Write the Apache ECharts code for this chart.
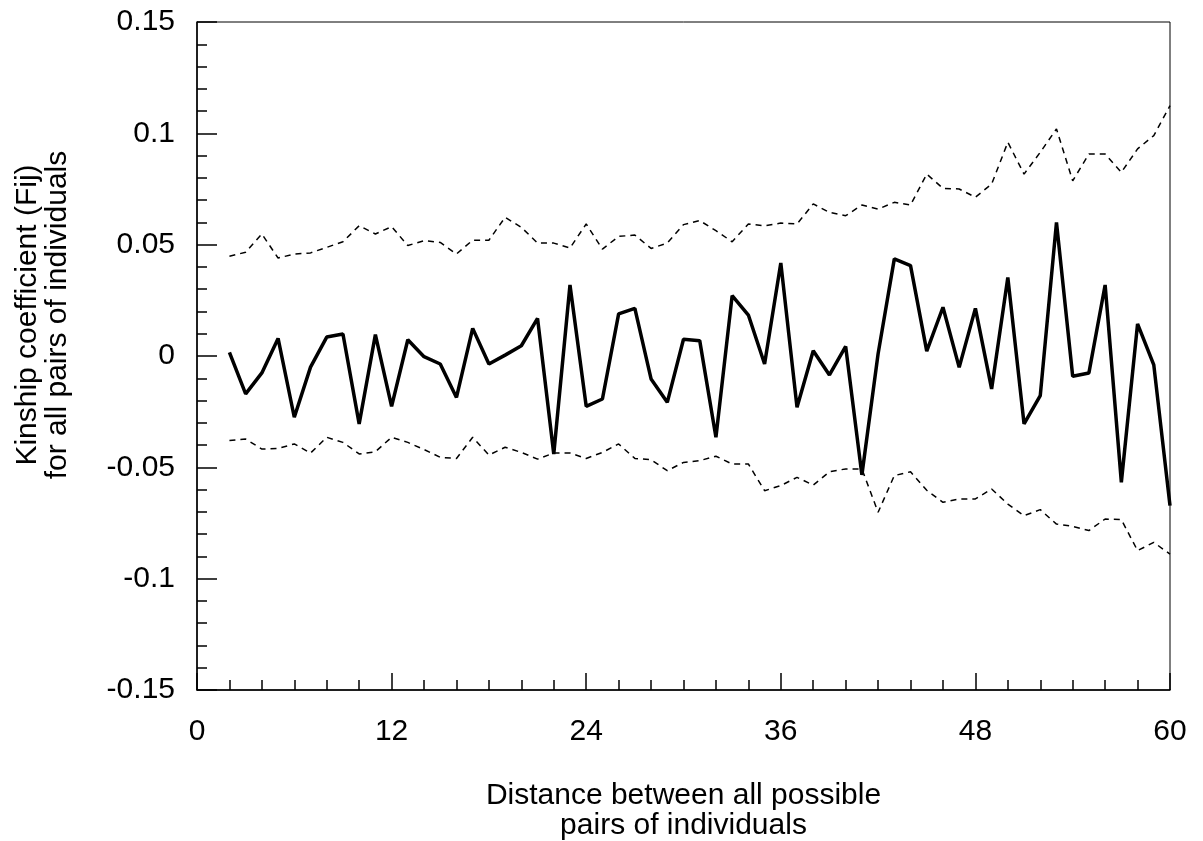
<!DOCTYPE html>
<html>
<head>
<meta charset="utf-8">
<script src="https://cdn.jsdelivr.net/npm/echarts@6/dist/echarts.min.js"></script>
<style>
html,body{margin:0;padding:0;background:#fff;}
#chart{width:1203px;height:841px;}
</style>
</head>
<body>
<div id="chart"></div>
<script>
// Distances (x) 2..60
const distances = [2,3,4,5,6,7,8,9,10,11,12,13,14,15,16,17,18,19,20,21,22,23,24,25,26,27,28,29,30,31,32,33,34,35,36,37,38,39,40,41,42,43,44,45,46,47,48,49,50,51,52,53,54,55,56,57,58,59,60];

// Observed kinship coefficient (solid line)
const kinship = [0.0016,-0.017,-0.0076,0.0079,-0.0275,-0.005,0.0085,0.0099,-0.0305,0.0096,-0.0226,0.0073,-0.0003,-0.0036,-0.0186,0.0124,-0.0036,0.0004,0.0046,0.0169,-0.044,0.0319,-0.0226,-0.0193,0.0189,0.0214,-0.0103,-0.0208,0.0075,0.0069,-0.0365,0.0271,0.0184,-0.0036,0.0418,-0.023,0.0024,-0.0085,0.0043,-0.0534,0.001,0.0436,0.0406,0.0022,0.0219,-0.0051,0.0214,-0.0148,0.0353,-0.0305,-0.0178,0.060,-0.0091,-0.0076,0.0319,-0.0567,0.0144,-0.004,-0.0672];

// Upper confidence limit (dashed)
const upper = [0.0448,0.0466,0.0548,0.0440,0.0458,0.0463,0.0488,0.0513,0.0585,0.0548,0.0581,0.0496,0.0518,0.0510,0.0458,0.052,0.052,0.0623,0.0578,0.0507,0.0507,0.0485,0.0593,0.048,0.0537,0.0543,0.0483,0.0507,0.059,0.0608,0.0563,0.0513,0.0593,0.0585,0.0597,0.0593,0.0683,0.0645,0.063,0.0678,0.066,0.069,0.0678,0.0817,0.0753,0.075,0.0713,0.0772,0.096,0.0817,0.0915,0.102,0.0787,0.0907,0.0907,0.0825,0.093,0.099,0.1124];

// Lower confidence limit (dashed)
const lower = [-0.038,-0.0373,-0.0418,-0.0415,-0.0395,-0.0436,-0.0365,-0.0388,-0.044,-0.043,-0.0365,-0.0388,-0.042,-0.0455,-0.046,-0.0365,-0.0445,-0.041,-0.0433,-0.0463,-0.0436,-0.0436,-0.046,-0.0433,-0.0395,-0.046,-0.0466,-0.0515,-0.0478,-0.047,-0.045,-0.0485,-0.0485,-0.0605,-0.0582,-0.0545,-0.058,-0.052,-0.0507,-0.0507,-0.0702,-0.0537,-0.052,-0.0603,-0.0657,-0.0642,-0.0642,-0.0597,-0.0665,-0.0717,-0.069,-0.0755,-0.0765,-0.0784,-0.0732,-0.0735,-0.0874,-0.0837,-0.089];

const xTickLabels = ['0','12','24','36','48','60'];
const yTickLabels = ['-0.15','-0.1','-0.05','0','0.05','0.1','0.15'];
const xTitle = 'Distance between all possible\npairs of individuals';
const yTitle = 'Kinship coefficient (Fij)\nfor all pairs of individuals';

const pairs = arr => distances.map((d,i)=>[d,arr[i]]);

const font = '"Liberation Sans", Arial, sans-serif';
const chart = echarts.init(document.getElementById('chart'), null, {renderer:'canvas'});
chart.setOption({
  animation:false,
  backgroundColor:'#fff',
  grid:{left:197, top:22, width:973, height:668, show:true, borderColor:'#000', borderWidth:1, containLabel:false, outerBoundsMode:'none'},
  xAxis:{
    type:'value', min:0, max:60, interval:12,
    axisLine:{show:true, onZero:false, lineStyle:{color:'#000', width:1.5}},
    axisTick:{show:true, inside:true, length:17, lineStyle:{color:'#000', width:1.5}},
    minorTick:{show:true, splitNumber:6, length:10, lineStyle:{color:'#000', width:1.5}},
    splitLine:{show:false},
    axisLabel:{color:'#000', fontFamily:font, fontSize:30, margin:27, formatter:v=>xTickLabels[Math.round(v/12)]},
    name:xTitle,
    nameLocation:'middle', nameGap:91,
    nameTextStyle:{color:'#000', fontFamily:font, fontSize:30, lineHeight:30}
  },
  yAxis:{
    type:'value', min:-0.15, max:0.15, interval:0.05,
    axisLine:{show:true, onZero:false, lineStyle:{color:'#000', width:1.5}},
    axisTick:{show:true, inside:true, length:20, lineStyle:{color:'#000', width:1.5}},
    minorTick:{show:true, splitNumber:5, length:10, lineStyle:{color:'#000', width:1.5}},
    splitLine:{show:false},
    axisLabel:{color:'#000', fontFamily:font, fontSize:30, margin:22, formatter:v=>yTickLabels[Math.round((v+0.15)/0.05)]}
  },
  graphic:[{
    type:'text', x:43, y:315, rotation:Math.PI/2,
    style:{text:yTitle, fill:'#000', font:'30px "Liberation Sans", Arial, sans-serif', lineHeight:30, align:'center', verticalAlign:'middle'}
  }],
  series:[
    {type:'line', data:pairs(upper), symbol:'none', lineStyle:{color:'#000', width:1.5, type:[6,5]}},
    {type:'line', data:pairs(lower), symbol:'none', lineStyle:{color:'#000', width:1.5, type:[6,5]}},
    {type:'line', data:pairs(kinship), symbol:'none', lineStyle:{color:'#000', width:3.5}}
  ]
});
</script>
</body>
</html>
